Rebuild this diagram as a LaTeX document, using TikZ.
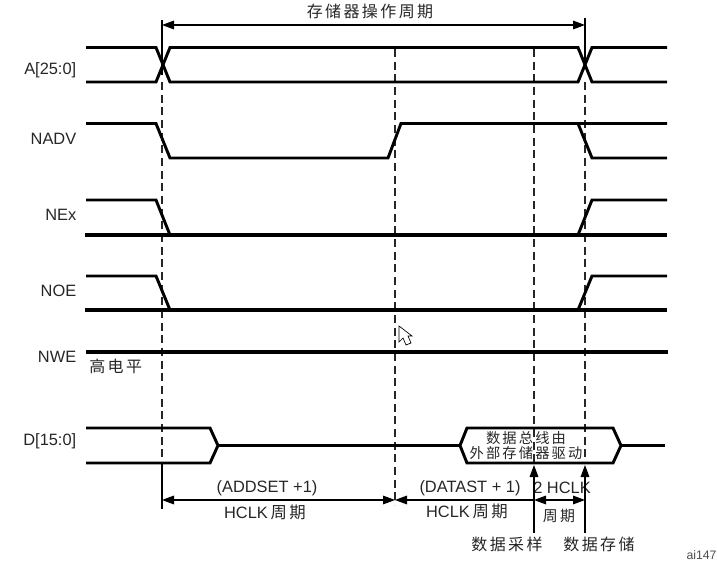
\documentclass[tikz,border=0pt]{standalone}
\usepackage{fontspec}
\setmainfont{Liberation Sans}
\newfontfamily\cjk[LetterSpace=15]{Noto Sans CJK SC}
\usetikzlibrary{arrows.meta, positioning}

\begin{document}
\begin{tikzpicture}[x=0.75pt, y=-0.75pt]
	\tikzstyle{sig}=[line width=2.2pt, line join=miter]
	\tikzstyle{bus}=[line width=2.6pt]
	\tikzstyle{guide}=[line width=0.8pt, dash pattern=on 6pt off 3.5pt, black!85]
	\tikzstyle{thin}=[line width=0.8pt]
	\tikzstyle{dim}=[line width=0.8pt, {Triangle[length=9pt,width=6.5pt]}-{Triangle[length=9pt,width=6.5pt]}]
	\tikzstyle{sigpalabel}=[font=\fontsize{12.3pt}{13pt}\selectfont, anchor=east, text=black!85, inner sep=0pt]
	\tikzstyle{txt}=[font=\fontsize{12.3pt}{13pt}\selectfont, text=black!85, inner sep=0pt]
	\tikzstyle{hz}=[font=\cjk\fontsize{10.7pt}{13pt}\selectfont, text=black!85, inner sep=0pt]
	\tikzstyle{hzbig}=[font=\cjk\fontsize{12pt}{13pt}\selectfont, text=black!85, inner sep=0pt]

	\useasboundingbox (0,0) rectangle (717,566);

	% guide lines
	\draw[guide] (162,82) -- (162,463);
	\draw[guide] (395,49) -- (395,505);
	\draw[guide] (534,49) -- (534,463);
	\draw[guide] (585,82) -- (585,463);
	\draw[thin] (162,20) -- (162,75);
	\draw[thin] (585,18) -- (585,65);
	\draw[thin] (162,463) -- (162,509);

	% signals
	\node[sigpalabel] (aname) at (76.5,70) {A[25:0]};
	\draw[sig] (86,47.5) -- (156,47.5) -- (170,82) -- (578,82) -- (592,47.5) -- (667,47.5);
	\draw[sig] (86,82) -- (156,82) -- (170,47.5) -- (578,47.5) -- (592,82) -- (667,82);

	\node[sigpalabel] (nadv) at (76.5,139) {NADV};
	\draw[sig] (86,123.5) -- (156,123.5) -- (170,158) -- (388,158) -- (401,123.5) -- (667,123.5);
	\draw[sig] (578,123.5) -- (592,158) -- (667,158);

	\node[sigpalabel] (nex) at (76.5,215) {NEx};
	\draw[sig] (86,200) -- (156,200) -- (170,235);
	\draw[bus] (85,235) -- (667,235);
	\draw[sig] (578,235) -- (592,200) -- (667,200);

	\node[sigpalabel] (noe) at (76.5,291) {NOE};
	\draw[sig] (86,276) -- (156,276) -- (170,310);
	\draw[bus] (85,310) -- (667,310);
	\draw[sig] (578,310) -- (592,276) -- (667,276);

	\node[sigpalabel] (nwe) at (76.5,357) {NWE};
	\draw[bus] (86,352) -- (668,352);
	\node[hzbig, anchor=west] (high) at (89,366) {高电平};

	\node[sigpalabel] (dbus) at (76.5,441) {D[15:0]};
	\draw[sig] (86,428) -- (210,428) -- (218,445.5) -- (210,463) -- (86,463);
	\draw[sig] (218,445.5) -- (460,445.5);
	\draw[sig] (460,445.5) -- (467,428) -- (613,428) -- (621,445.5) -- (613,463) -- (467,463) -- cycle;
	\draw[sig] (621,445.5) -- (665,445.5);
	\node[hz] (drv1) at (526,438) {数据总线由};
	\node[hz] (drv2) at (526,453) {外部存储器驱动};

	% period labels
	\coordinate (ts) at (162,25);
	\coordinate (te) at (585,25);
	\draw[dim] (ts) -- (te);
	\node[hzbig] (cycle) at (370,11) {存储器操作周期};

	\coordinate (a0) at (162,500);
	\coordinate (a1) at (395,500);
	\coordinate (a2) at (534,500);
	\coordinate (a3) at (585,500);
	\draw[dim] (a0) -- (a1);
	\draw[thin, {Triangle[length=9pt,width=6.5pt]}-] (a1) -- (a2);
	\draw[dim] (a2) -- (a3);
	\node[txt] (addset) at (267,488) {(ADDSET +1)};
	\node[txt] (hclka) at (265,512) {HCLK\,{\cjk 周期}};
	\node[txt] (datast) at (470,488) {(DATAST + 1)};
	\node[txt] (hclkb) at (467,511) {HCLK\,{\cjk 周期}};
	\node[txt] (twoclk) at (562,488) {2 HCLK};
	\node[hz, font=\cjk\fontsize{11.2pt}{13pt}\selectfont] (per) at (559,516) {周期};

	% sample and store
	\node[hzbig] (samp) at (507,544) {数据采样};
	\node[hzbig] (stor) at (599,544) {数据存储};
	\coordinate (sampt) at (534,465);
	\coordinate (stort) at (585,465);
	\draw[thin, {Triangle[length=9pt,width=6.5pt]}-] (sampt) -- (534,533);
	\draw[thin, {Triangle[length=9pt,width=6.5pt]}-] (stort) -- (585,533);

	\node[font=\fontsize{9.2pt}{10pt}\selectfont, text=black!70, inner sep=0pt] (tag) at (701.5,555) {ai147};

	% pointer
	\draw[line width=0.5pt, fill=white] (399,326) -- (399,342) -- (403,338) -- (406,345) -- (411,343) -- (408,336) -- (412,336) -- cycle;
\end{tikzpicture}
\end{document}
